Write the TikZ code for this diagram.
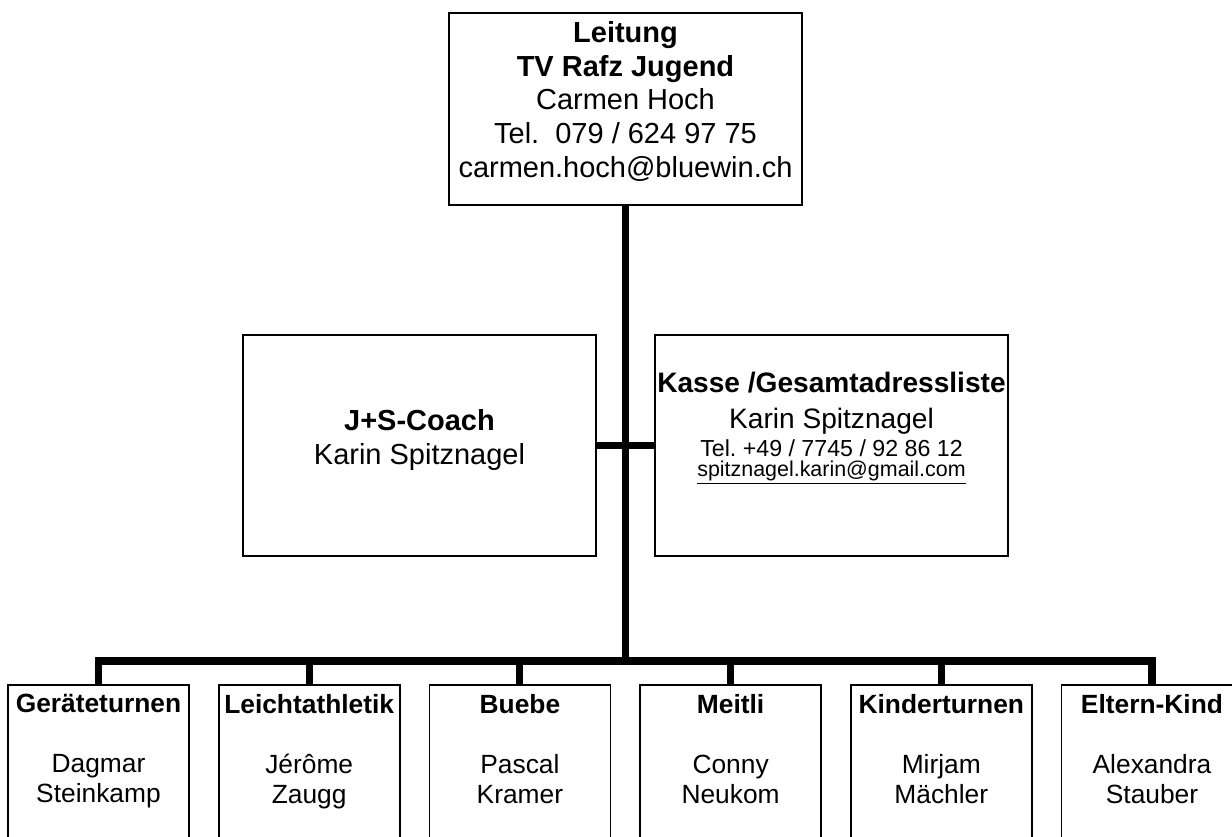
\documentclass[tikz,border=0pt]{standalone}
\usepackage{fontspec}
\setmainfont{Liberation Sans}
\usepackage{tikz}

\begin{document}
\begin{tikzpicture}[x=0.02cm, y=-0.02cm,
	box/.style={draw, line width=1pt, inner sep=0pt},
	headbox/.style={box, minimum width=7.06cm},
	groupbox/.style={box, minimum width=3.62cm, minimum height=4cm},
	boxtext/.style={align=center, anchor=north, inner sep=0pt, font=\fontsize{16.5}{19.2}\selectfont},
	grouptext/.style={boxtext, font=\fontsize{15}{17.1}\selectfont},
	link/.style={line width=4pt}]
\useasboundingbox (0,0) rectangle (1232,837);
\clip (0,0) rectangle (1232,837);

	% draw boxes
	\node[headbox, minimum height=3.84cm] (lead) at (625.5,109) {};
	\node[headbox, minimum height=4.42cm] (coach) at (419.5,445.5) {};
	\node[headbox, minimum height=4.42cm] (cash) at (831.5,445.5) {};
	
	\node[groupbox] (g1) at (98.5,785) {};
	\node[groupbox] (g2) at (309.2,785) {};
	\node[groupbox] (g3) at (519.9,785) {};
	\node[groupbox] (g4) at (730.6,785) {};
	\node[groupbox] (g5) at (941.3,785) {};
	\node[groupbox] (g6) at (1152,785) {};
	
	% draw texts
	\node[boxtext] (leadtext) at (625.5,21) {\textbf{Leitung}\\ \textbf{TV Rafz Jugend}\\ Carmen Hoch\\ Tel.\ \ 079 / 624 97 75\\ carmen.hoch@bluewin.ch};
	\node[boxtext] (coachtext) at (419.5,409.5) {\textbf{J+S-Coach}\\ Karin Spitznagel};
	\node[boxtext, font=\fontsize{16}{20.3}\selectfont] (cashtext) at (831.5,372) {\textbf{Kasse /Gesamtadressliste}\\ Karin Spitznagel\\[-4.5pt] {\fontsize{13.2}{15}\selectfont Tel.\ +49 / 7745 / 92 86 12}\\[-8.5pt] {\fontsize{12.2}{14}\selectfont\underline{spitznagel.karin@gmail.com}}};
	
	\node[grouptext] (g1text) at (98.5,694) {\textbf{Geräteturnen}\\[17.1pt] Dagmar\\ Steinkamp};
	\node[grouptext] (g2text) at (309.2,694) {\textbf{Leichtathletik}\\[17.1pt] Jérôme\\ Zaugg};
	\node[grouptext] (g3text) at (519.9,694) {\textbf{Buebe}\\[17.1pt] Pascal\\ Kramer};
	\node[grouptext] (g4text) at (730.6,694) {\textbf{Meitli}\\[17.1pt] Conny\\ Neukom};
	\node[grouptext] (g5text) at (941.3,694) {\textbf{Kinderturnen}\\[17.1pt] Mirjam\\ Mächler};
	\node[grouptext] (g6text) at (1152,694) {\textbf{Eltern-Kind}\\[17.1pt] Alexandra\\ Stauber};
	
	% draw lines
	\coordinate (bus) at (625.5,661);
	\draw[link] (lead) -- (lead |- bus);
	\draw[link] (coach) -- (cash);
	\draw[link] (g1) -- (g1 |- bus) -- (g6 |- bus) -- (g6);
	\draw[link] (g2 |- bus) -- (g2);
	\draw[link] (g3 |- bus) -- (g3);
	\draw[link] (g4 |- bus) -- (g4);
	\draw[link] (g5 |- bus) -- (g5);
\end{tikzpicture}
\end{document}
